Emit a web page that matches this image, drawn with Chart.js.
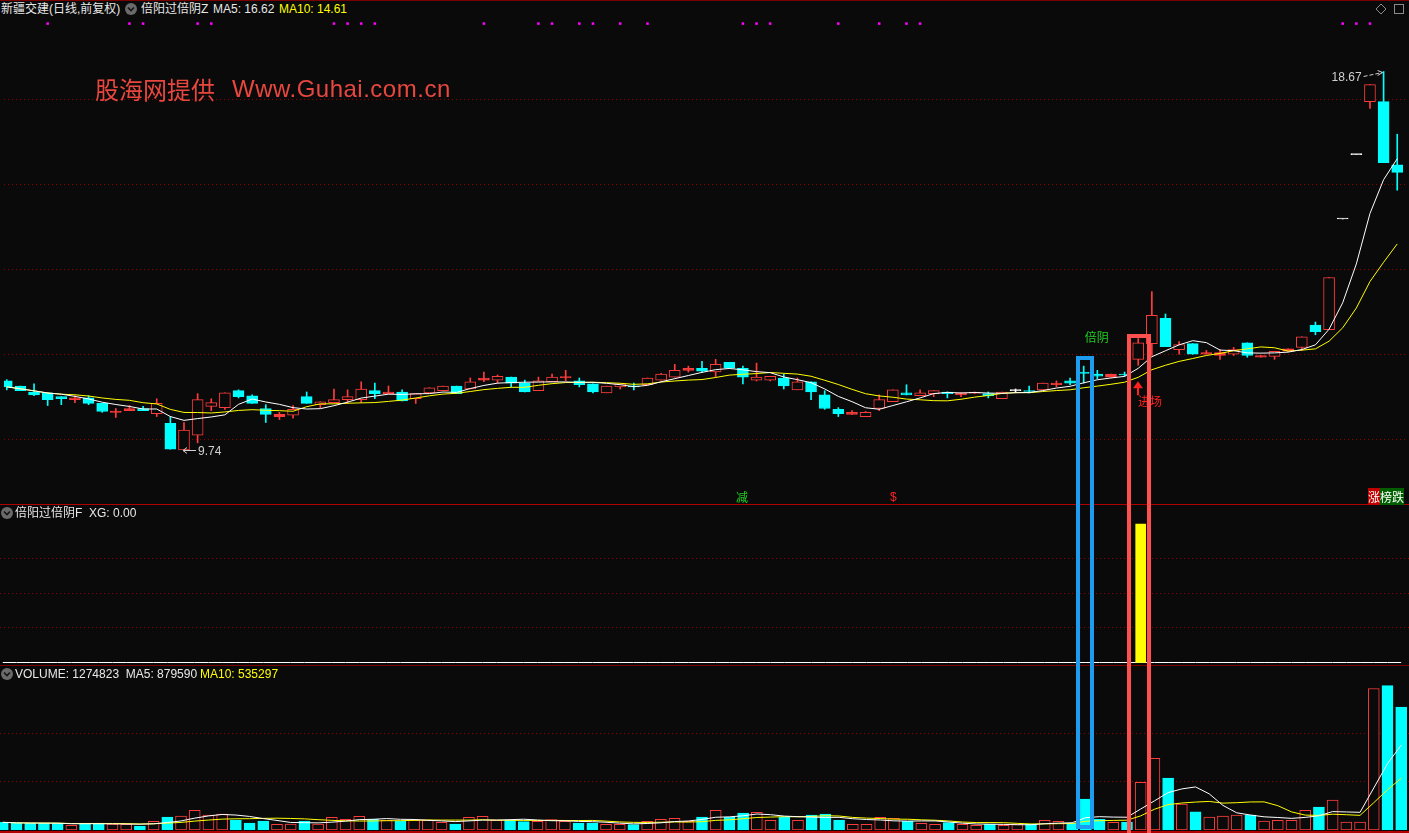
<!DOCTYPE html>
<html><head><meta charset="utf-8">
<script src="https://cdn.jsdelivr.net/npm/chart.js@4.4.1/dist/chart.umd.min.js"></script>
<style>
html,body{margin:0;padding:0;background:#0a0a0a;}
#wrap{position:relative;width:1409px;height:833px;overflow:hidden;background:#0a0a0a;}
canvas{position:absolute;left:0;display:block;}
.t{position:absolute;font-family:"Liberation Sans","Noto Sans CJK SC",sans-serif;font-size:12px;line-height:14px;white-space:nowrap;color:#e8e8e8;}
.ln{position:absolute;left:0;width:1409px;height:1px;}
.ic{position:absolute;}
.box{position:absolute;box-sizing:border-box;}
</style></head><body><div id="wrap">
<div class="ln" style="top:0;background:#7a0000"></div>
<canvas id="cPrice" width="1409" height="486" style="top:18px"></canvas>
<div class="ln" style="top:504px;background:#b00000"></div>
<canvas id="cInd" width="1409" height="157" style="top:506px"></canvas>
<div class="ln" style="top:665px;background:#7a0000"></div>
<canvas id="cVol" width="1409" height="164" style="top:666px"></canvas>
<div class="ln" style="top:831px;height:2px;background:#b00000"></div>

<div class="t" style="left:1px;top:2px">新疆交建(日线,前复权)</div>
<svg class="ic" style="left:125px;top:3px" width="12" height="12"><circle cx="6" cy="6" r="6" fill="#6a6a6a"/><path d="M3 4.5 L6 7.5 L9 4.5" stroke="#151515" stroke-width="1.6" fill="none"/></svg>
<div class="t" style="left:141px;top:2px">倍阳过倍阴Z</div>
<div class="t" style="left:213px;top:2px">MA5: 16.62</div>
<div class="t" style="left:279px;top:2px;color:#ffff00">MA10: 14.61</div>
<svg class="ic" style="left:1375px;top:3px" width="12" height="12"><path d="M6 1 L11 6 L6 11 L1 6 Z" stroke="#8a8a8a" fill="none"/></svg>
<svg class="ic" style="left:1393px;top:3px" width="12" height="12"><rect x="1.5" y="1.5" width="9" height="9" stroke="#8a8a8a" fill="none"/></svg>

<svg class="ic" style="left:1px;top:507px" width="12" height="12"><circle cx="6" cy="6" r="6" fill="#6a6a6a"/><path d="M3 4.5 L6 7.5 L9 4.5" stroke="#151515" stroke-width="1.6" fill="none"/></svg>
<div class="t" style="left:15px;top:506px">倍阳过倍阴F&nbsp; XG: 0.00</div>
<svg class="ic" style="left:1px;top:668px" width="12" height="12"><circle cx="6" cy="6" r="6" fill="#6a6a6a"/><path d="M3 4.5 L6 7.5 L9 4.5" stroke="#151515" stroke-width="1.6" fill="none"/></svg>
<div class="t" style="left:15px;top:667px">VOLUME: 1274823&nbsp; MA5: 879590</div>
<div class="t" style="left:200px;top:667px;color:#ffff00">MA10: 535297</div>

<div class="t" style="left:95px;top:75px;font-size:24px;line-height:28px;color:#e8473f;font-family:'Noto Sans CJK SC',sans-serif">股海网提供</div>
<div class="t" style="left:232px;top:75px;font-size:24px;line-height:28px;letter-spacing:0.5px;color:#e8473f">Www.Guhai.com.cn</div>

<div class="t" style="left:736px;top:490px;color:#20d020;font-family:'Noto Sans CJK SC',sans-serif">减</div>
<div class="t" style="left:890px;top:490px;color:#ff2020">$</div>
<div class="t" style="left:1368px;top:490px;font-family:'Noto Sans CJK SC',sans-serif"><span style="background:#c00000;color:#fff">涨</span><span style="background:#006000;color:#fff">榜跌</span></div>
<div id="overlay"></div>
</div>
<script>
// ---------------- data ----------------
const opens  = [11.37,11.25,11.11,11.09,11.00,10.93,10.97,10.84,10.63,10.67,10.72,10.60,10.37,9.74,10.09,10.77,10.74,11.14,11.02,10.72,10.53,10.56,11.00,10.81,10.86,10.93,10.93,11.14,11.07,11.11,10.95,11.09,11.14,11.25,11.18,11.39,11.39,11.46,11.32,11.14,11.35,11.45,11.37,11.30,11.09,11.23,11.25,11.28,11.39,11.46,11.62,11.67,11.58,11.81,11.67,11.39,11.39,11.44,11.16,11.35,11.04,10.70,10.58,10.53,10.72,10.88,11.09,11.02,11.07,11.11,11.04,11.08,11.07,10.95,11.14,11.14,11.16,11.28,11.37,11.58,11.53,11.46,11.53,11.88,12.25,12.85,12.11,12.25,12.00,11.97,12.00,12.27,11.93,11.95,12.07,12.16,12.69,12.58,15.19,16.71,17.96,17.96,16.47];
const highs  = [11.40,11.25,11.30,11.09,11.00,11.02,11.02,10.84,10.72,10.79,10.77,10.95,10.53,10.39,11.07,10.95,11.09,11.16,11.04,10.81,10.63,10.79,11.11,10.88,11.18,11.16,11.35,11.32,11.25,11.16,11.07,11.21,11.25,11.25,11.44,11.58,11.51,11.46,11.39,11.46,11.53,11.62,11.44,11.30,11.25,11.30,11.32,11.44,11.55,11.76,11.72,11.83,11.88,11.81,11.72,11.79,11.48,11.53,11.44,11.35,11.14,10.74,10.67,10.65,11.04,11.16,11.28,11.16,11.14,11.11,11.09,11.11,11.11,11.11,11.18,11.25,11.32,11.37,11.44,11.72,11.62,11.53,11.58,12.37,13.48,12.95,12.30,12.25,12.09,12.11,12.16,12.27,11.97,12.07,12.13,12.41,12.76,13.81,15.19,16.71,18.36,18.67,17.19];
const lows   = [11.16,11.14,11.02,10.79,10.81,10.86,10.81,10.63,10.51,10.67,10.67,10.53,9.76,9.74,9.91,10.67,10.70,10.97,10.84,10.39,10.46,10.49,10.84,10.74,10.86,10.84,10.86,10.95,11.07,10.90,10.84,11.09,11.14,11.07,11.18,11.35,11.32,11.23,11.11,11.14,11.35,11.37,11.23,11.09,11.09,11.18,11.16,11.28,11.39,11.46,11.58,11.58,11.46,11.67,11.30,11.37,11.37,11.18,11.16,10.93,10.70,10.53,10.58,10.53,10.67,10.88,11.04,11.02,11.00,10.97,11.00,11.07,10.97,10.95,11.09,11.09,11.16,11.23,11.28,11.32,11.42,11.46,11.48,11.74,11.97,12.18,12.00,12.00,12.00,11.88,11.97,11.93,11.93,11.88,12.07,12.09,12.46,12.58,15.19,16.71,17.80,16.52,15.87];
const closes = [11.23,11.14,11.04,10.93,10.95,10.97,10.84,10.65,10.66,10.72,10.67,10.84,9.76,10.21,10.93,10.86,11.09,11.00,10.84,10.58,10.58,10.70,10.84,10.88,10.93,11.00,11.18,11.07,11.11,10.90,11.07,11.21,11.25,11.07,11.35,11.44,11.48,11.32,11.11,11.37,11.46,11.47,11.28,11.11,11.25,11.30,11.23,11.44,11.53,11.62,11.67,11.60,11.76,11.67,11.46,11.46,11.48,11.25,11.35,11.11,10.72,10.60,10.63,10.63,10.93,11.16,11.04,11.09,11.14,11.07,11.09,11.10,11.02,11.11,11.14,11.12,11.32,11.32,11.32,11.55,11.48,11.53,11.51,12.27,12.92,12.18,12.23,12.00,12.04,12.04,12.11,11.97,11.97,12.07,12.13,12.41,12.53,13.81,15.19,16.71,18.36,16.52,16.29];
const volumes = [79500,69000,69000,69000,69000,48000,69000,69000,62000,59000,41000,90000,135000,145000,204000,155000,166000,104000,73000,93000,59000,62000,93000,62000,131000,110000,142000,110000,100000,93000,100000,100000,79000,62000,131000,142000,100000,100000,86000,90000,107000,90000,73000,73000,59000,59000,55000,90000,110000,121000,90000,135000,204000,131000,176000,183000,100000,131000,100000,155000,166000,104000,59000,59000,131000,121000,90000,69000,59000,76000,59000,48000,59000,48000,59000,59000,100000,90000,69000,321000,110000,79000,83000,494000,743000,539000,269000,187000,135000,145000,155000,155000,93000,100000,100000,205000,238000,311000,81000,81000,1466000,1496000,1274823];
const signalDots = [3,9,10,14,15,24,25,26,27,35,39,40,42,43,45,47,54,55,56,61,64,66,67,98,99,100];
const xgSignals = [83];
const priceGrid = [10,12,14,16,18];
const volGrid = [500000,1000000];
const indGrid = [0.25,0.5,0.75];
const beiYinIdx = 79;   // 倍阴
const jinChangIdx = 83; // 进场

// ---------------- helpers ----------------
const idx = closes.map((_, i) => i);
function movingAvg(arr, n){return arr.map((_, i)=>{const s=Math.max(0,i-n+1);let t=0;for(let k=s;k<=i;k++)t+=arr[k];return t/(i-s+1);});}
const UP='#ff3c3c', DN='#00ffff', EQ='#ffffff', BG='#0a0a0a', GRID='#8c0000';
const dir = idx.map(i => closes[i]>opens[i]?1:(closes[i]<opens[i]?-1:0));
const cColor = dir.map(d => d>0?UP:(d<0?DN:EQ));
const bodyFill = idx.map(i => dir[i]>0 ? (Math.abs(closes[i]-opens[i])<0.07?UP:BG) : cColor[i]);
const X_MIN=-0.204, X_MAX=102.57;

Chart.defaults.animation=false;
Chart.defaults.font.family='"Liberation Sans", sans-serif';

function scalesFor(yMin,yMax,gridVals){
  return {
    x:{type:'linear',min:X_MIN,max:X_MAX,display:false,offset:false,grid:{offset:false}},
    y:{type:'linear',min:yMin,max:yMax,position:'left',offset:false,
       ticks:{display:false},grid:{color:GRID,drawTicks:false,lineWidth:1},
       border:{display:false,dash:[1,3]},
       afterFit(s){s.width=0;},
       afterBuildTicks(s){s.ticks=gridVals.map(v=>({value:v}));}}
  };
}
const common = {responsive:false,devicePixelRatio:1,animation:false,layout:{padding:0},
  plugins:{legend:{display:false},tooltip:{enabled:false}}};

// ---------------- price chart ----------------
const ma5 = movingAvg(closes,5), ma10 = movingAvg(closes,10);
const lowIdx = lows.indexOf(Math.min(...lows));
const highIdx = highs.indexOf(Math.max(...highs));

const priceAnnot = {
  id:'priceAnnot',
  afterDatasetsDraw(chart){
    const {ctx,scales:{x,y}} = chart;
    ctx.save();
    ctx.font='12px "Liberation Sans", sans-serif';
    ctx.strokeStyle=ctx.fillStyle='#d0d0d0';ctx.lineWidth=1;
    const lx=Math.round(x.getPixelForValue(lowIdx))-1, ly=Math.round(y.getPixelForValue(lows[lowIdx]))+0.5;
    ctx.beginPath();ctx.moveTo(lx,ly);ctx.lineTo(lx+13,ly);
    ctx.moveTo(lx+4,ly-3);ctx.lineTo(lx,ly);ctx.lineTo(lx+4,ly+3);ctx.stroke();
    ctx.textBaseline='middle';ctx.textAlign='left';
    ctx.fillText(lows[lowIdx].toFixed(2),lx+15,ly+1);
    const hx=x.getPixelForValue(highIdx), hy=y.getPixelForValue(highs[highIdx]);
    ctx.textAlign='right';
    ctx.fillText(highs[highIdx].toFixed(2),hx-22,hy+6);
    ctx.setLineDash([4,2]);
    ctx.beginPath();ctx.moveTo(hx-20,hy+5);ctx.lineTo(hx-1,hy+1);ctx.stroke();
    ctx.setLineDash([]);
    ctx.beginPath();ctx.moveTo(hx-6,hy-1);ctx.lineTo(hx-1,hy+1);ctx.lineTo(hx-6,hy+4);ctx.stroke();
    const bx=x.getPixelForValue(beiYinIdx), btop=y.getPixelForValue(highs[beiYinIdx])-10;
    ctx.font='12px "Noto Sans CJK SC", sans-serif';
    ctx.textAlign='left';ctx.fillStyle='#22d022';
    ctx.fillText('倍阴',bx+1,btop-19);
    const jx=Math.round(x.getPixelForValue(jinChangIdx)), jy=y.getPixelForValue(lows[jinChangIdx])+16;
    ctx.fillStyle='#ff2020';
    ctx.beginPath();ctx.moveTo(jx,jy);ctx.lineTo(jx+5,jy+7);ctx.lineTo(jx-5,jy+7);ctx.closePath();ctx.fill();
    ctx.fillRect(jx-1,jy+6,2,8);
    ctx.fillText('进场',jx,jy+20);
    ctx.restore();
  }
};

const P_MIN=8.5615, P_MAX=19.8376;
const priceChart = new Chart(document.getElementById('cPrice'),{
  type:'bar',
  data:{datasets:[
    {type:'line',data:idx.map(i=>({x:i,y:ma5[i]})),borderColor:'#ffffff',borderWidth:1,pointRadius:0,order:1},
    {type:'line',data:idx.map(i=>({x:i,y:ma10[i]})),borderColor:'#ffff00',borderWidth:1,pointRadius:0,order:1},
    {type:'line',data:signalDots.map(i=>({x:i,y:19.80})),showLine:false,pointStyle:'rect',pointRadius:1.8,
     backgroundColor:'#ff00ff',borderWidth:0,order:0},
    {type:'bar',data:idx.map(i=>({x:i,y:[Math.min(opens[i],closes[i]),Math.max(opens[i],closes[i])]})),
     backgroundColor:bodyFill,borderColor:cColor,borderWidth:1,borderSkipped:false,grouped:false,
     categoryPercentage:1,barPercentage:1,maxBarThickness:11,minBarLength:1,order:2},
    {type:'bar',data:idx.map(i=>({x:i,y:[lows[i],highs[i]]})),backgroundColor:cColor,borderWidth:0,
     grouped:false,categoryPercentage:1,barPercentage:1,maxBarThickness:1,order:3}
  ]},
  options:{...common,scales:scalesFor(P_MIN,P_MAX,priceGrid)},
  plugins:[priceAnnot]
});

// ---------------- indicator chart ----------------
const xg = idx.map(i => xgSignals.includes(i)?1:null);
new Chart(document.getElementById('cInd'),{
  type:'bar',
  data:{datasets:[
    {type:'line',data:idx.map(i=>({x:i,y:0})),borderColor:'#ffffff',borderWidth:1,pointRadius:0,order:1},
    {type:'bar',data:idx.map(i=>({x:i,y:xg[i]})),backgroundColor:'#ffff00',borderWidth:0,grouped:false,
     categoryPercentage:1,barPercentage:1,maxBarThickness:10,order:0}
  ]},
  options:{...common,scales:scalesFor(-0.0036,1.13,indGrid)}
});

// ---------------- volume chart ----------------
const vma5 = movingAvg(volumes,5), vma10 = movingAvg(volumes,10);
const vColor = dir.map(d => d>=0?UP:DN);
const vFill = dir.map(d => d>=0?BG:DN);
new Chart(document.getElementById('cVol'),{
  type:'bar',
  data:{datasets:[
    {type:'line',data:idx.map(i=>({x:i,y:vma5[i]})),borderColor:'#ffffff',borderWidth:1,pointRadius:0,order:1},
    {type:'line',data:idx.map(i=>({x:i,y:vma10[i]})),borderColor:'#ffff00',borderWidth:1,pointRadius:0,order:1},
    {type:'bar',data:idx.map(i=>({x:i,y:volumes[i]})),backgroundColor:vFill,borderColor:vColor,borderWidth:1,
     borderSkipped:false,grouped:false,categoryPercentage:1,barPercentage:1,maxBarThickness:11,order:2}
  ]},
  options:{...common,scales:scalesFor(0,1699482,volGrid)}
});

// ---------------- highlight boxes (from scales) ----------------
(function(){
  const sx=priceChart.scales.x, sy=priceChart.scales.y, top0=18;
  const ov=document.getElementById('overlay');
  const b=document.createElement('div');b.className='box';
  const bc=sx.getPixelForValue(beiYinIdx), bt=top0+sy.getPixelForValue(highs[beiYinIdx])-10;
  Object.assign(b.style,{left:(bc-8)+'px',top:bt+'px',width:'18px',height:(829-bt)+'px',border:'4px solid #1e9cf0'});
  ov.appendChild(b);
  const r=document.createElement('div');r.className='box';
  const rc=sx.getPixelForValue(jinChangIdx), rt=top0+sy.getPixelForValue(highs[jinChangIdx])-5;
  Object.assign(r.style,{left:(rc-11.2)+'px',top:rt+'px',width:'24px',height:(840-rt)+'px',border:'4px solid #ff5050'});
  ov.appendChild(r);
})();
</script>
</body></html>
